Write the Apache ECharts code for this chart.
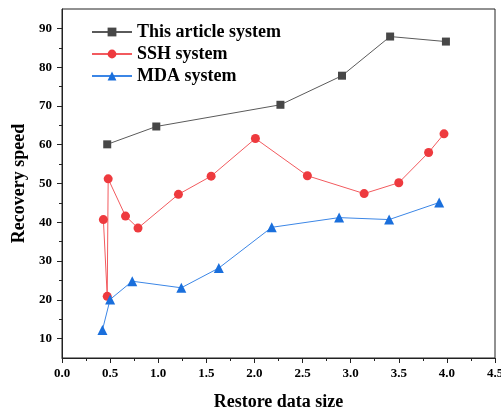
<!DOCTYPE html>
<html lang="en" style="height: 100%">

<head>
  <meta charset="UTF-8" />
  <title>Recovery speed</title>
  <script src="https://cdn.jsdelivr.net/npm/echarts@6/dist/echarts.min.js"></script>
</head>

<body style="height: 100%; margin: 0">
  <div id="main" style="width: 501px; height: 412px"></div>
  <script type="text/javascript">
    // data: [restore data size, recovery speed]
    var thisX = [0.47, 0.98, 2.27, 2.91, 3.41, 3.99];
    var thisY = [60.1, 64.7, 70.3, 77.8, 87.9, 86.6];
    var sshX = [0.43, 0.47, 0.48, 0.66, 0.79, 1.21, 1.55, 2.01, 2.55, 3.14, 3.50, 3.81, 3.97];
    var sshY = [40.7, 20.9, 51.2, 41.6, 38.5, 47.2, 51.9, 61.6, 52.0, 47.4, 50.2, 58.0, 62.8];
    var mdaX = [0.42, 0.50, 0.73, 1.24, 1.63, 2.18, 2.88, 3.40, 3.92];
    var mdaY = [12.2, 20.1, 24.8, 23.1, 28.2, 38.7, 41.2, 40.7, 45.1];
    var yMajor = [10, 20, 30, 40, 50, 60, 70, 80, 90];
    var yMinor = [15, 25, 35, 45, 55, 65, 75, 85];

    function pairs(xs, ys) {
      var out = [];
      for (var i = 0; i < xs.length; i++) out.push([xs[i], ys[i]]);
      return out;
    }

    var font = 'Liberation Serif';
    var myChart = echarts.init(document.getElementById('main'));

    var option = {
      animation: false,
      textStyle: { fontFamily: font },
      grid: {
        left: 62, right: 6, top: 9, bottom: 54,
        outerBoundsMode: 'none',
        show: true, borderColor: '#222', borderWidth: 1
      },
      legend: {
        orient: 'vertical',
        left: 86, top: 18,
        itemWidth: 40, itemHeight: 11, itemGap: 4,
        textStyle: { fontFamily: font, fontSize: 18, fontWeight: 'bold', color: '#000' }
      },
      xAxis: {
        type: 'value',
        min: 0, max: 4.5, interval: 0.5,
        name: 'Restore data size',
        nameLocation: 'middle', nameGap: 35,
        nameTextStyle: { fontFamily: font, fontSize: 18, fontWeight: 'bold', color: '#000' },
        axisLine: { lineStyle: { color: '#222' } },
        axisTick: { length: 5, lineStyle: { color: '#222' } },
        minorTick: { show: true, splitNumber: 2, length: 3, lineStyle: { color: '#222' } },
        splitLine: { show: false },
        axisLabel: {
          fontFamily: font, fontSize: 13, fontWeight: 'bold', color: '#000', margin: 9,
          formatter: function (v) { return v.toFixed(1); }
        }
      },
      yAxis: [{
        type: 'value',
        min: 5, max: 95, interval: 5,
        name: 'Recovery speed',
        nameLocation: 'middle', nameGap: 31,
        nameTextStyle: { fontFamily: font, fontSize: 18, fontWeight: 'bold', color: '#000' },
        axisLine: { show: true, lineStyle: { color: '#222' } },
        axisTick: { length: 5, customValues: yMajor, lineStyle: { color: '#222' } },
        splitLine: { show: false },
        axisLabel: {
          fontFamily: font, fontSize: 13, fontWeight: 'bold', color: '#000', margin: 10,
          customValues: yMajor
        }
      }, {
        type: 'value',
        position: 'left',
        min: 5, max: 95, interval: 5,
        axisLine: { show: false },
        axisTick: { length: 3, customValues: yMinor, lineStyle: { color: '#222' } },
        axisLabel: { show: false },
        splitLine: { show: false }
      }],
      series: [
        {
          name: 'This article system',
          type: 'line',
          data: pairs(thisX, thisY),
          symbol: 'rect', symbolSize: 8,
          itemStyle: { color: '#474747' },
          lineStyle: { color: '#5a5a5a', width: 1 }
        },
        {
          name: 'SSH system',
          type: 'line',
          data: pairs(sshX, sshY),
          symbol: 'circle', symbolSize: 9,
          itemStyle: { color: '#ee3a3e' },
          lineStyle: { color: '#f25a5e', width: 1 }
        },
        {
          name: 'MDA system',
          type: 'line',
          data: pairs(mdaX, mdaY),
          symbol: 'triangle', symbolSize: 10,
          itemStyle: { color: '#1a6fdc' },
          lineStyle: { color: '#3b86e6', width: 1 }
        }
      ]
    };

    myChart.setOption(option);
    window.addEventListener('resize', myChart.resize);
  </script>
</body>

</html>
